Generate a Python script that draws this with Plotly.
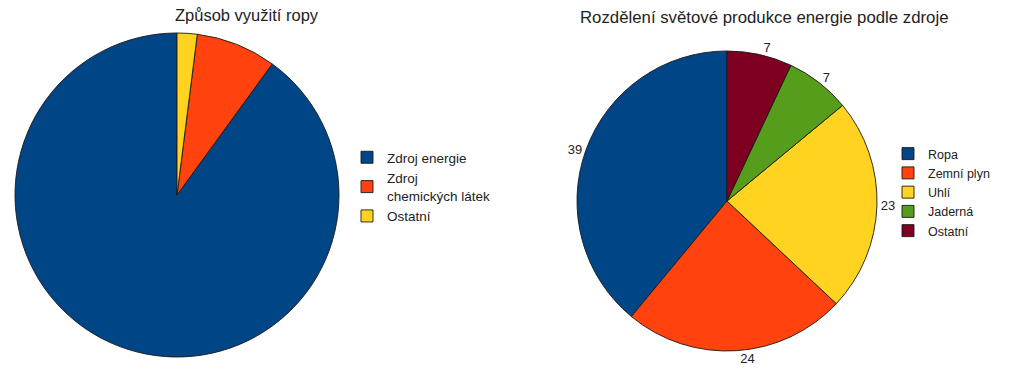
import plotly.graph_objects as go

W, H = 1009, 382

left_labels = ["Zdroj energie", "Zdroj<br>chemických látek", "Ostatní"]
left_values = [90, 8, 2]

right_labels = ["Ropa", "Zemní plyn", "Uhlí", "Jaderná", "Ostatní"]
right_values = [39, 24, 23, 7, 7]

colors = ["#004586", "#ff420e", "#ffd320", "#579d1c", "#7e0021"]
FONT = "Liberation Sans, Arial, sans-serif"
TXT = "#222222"


def dom(cx, cy, r):
    return dict(x=[(cx - r) / W, (cx + r) / W], y=[1 - (cy + r) / H, 1 - (cy - r) / H])


def start_rot(values):
    # first slice drawn counterclockwise from 12 o'clock
    return -360.0 * values[0] / sum(values)


fig = go.Figure()
fig.add_trace(go.Pie(
    labels=left_labels, values=left_values, sort=False, direction="counterclockwise",
    rotation=start_rot(left_values),
    marker=dict(colors=colors[:3], line=dict(color="#1a1a1a", width=0.9)),
    textinfo="none", domain=dom(177, 195, 162), legend="legend", legendgroup="a",
    hoverinfo="skip",
))
fig.add_trace(go.Pie(
    labels=right_labels, values=right_values, sort=False, direction="counterclockwise",
    rotation=start_rot(right_values),
    marker=dict(colors=colors, line=dict(color="#1a1a1a", width=0.9)),
    textinfo="value", textposition="outside",
    outsidetextfont=dict(size=13, color=TXT, family=FONT),
    domain=dom(727, 201, 150), legend="legend2", legendgroup="b", hoverinfo="skip",
))

fig.update_layout(
    width=W, height=H, margin=dict(l=0, r=0, t=0, b=0),
    paper_bgcolor="white", plot_bgcolor="white",
    font=dict(family=FONT, size=12, color=TXT),
    legend=dict(x=347 / W, y=1 - 142 / H, xanchor="left", yanchor="top",
                font=dict(size=13.5, family=FONT, color=TXT),
                itemwidth=30, bgcolor="rgba(0,0,0,0)"),
    legend2=dict(x=888 / W, y=1 - 139 / H, xanchor="left", yanchor="top",
                 font=dict(size=12.5, family=FONT, color=TXT),
                 itemwidth=30, bgcolor="rgba(0,0,0,0)"),
    annotations=[
        dict(text="Způsob využití ropy", x=247 / W, y=1 - 15 / H, xref="paper", yref="paper",
             xanchor="center", yanchor="middle", showarrow=False,
             font=dict(size=16.5, family=FONT, color=TXT)),
        dict(text="Rozdělení světové produkce energie podle zdroje", x=764 / W, y=1 - 17 / H,
             xref="paper", yref="paper", xanchor="center", yanchor="middle", showarrow=False,
             font=dict(size=16.8, family=FONT, color=TXT)),
    ],
)

fig.write_html("out.html", config={"displayModeBar": False},
               post_script="document.body.style.margin='0';")
